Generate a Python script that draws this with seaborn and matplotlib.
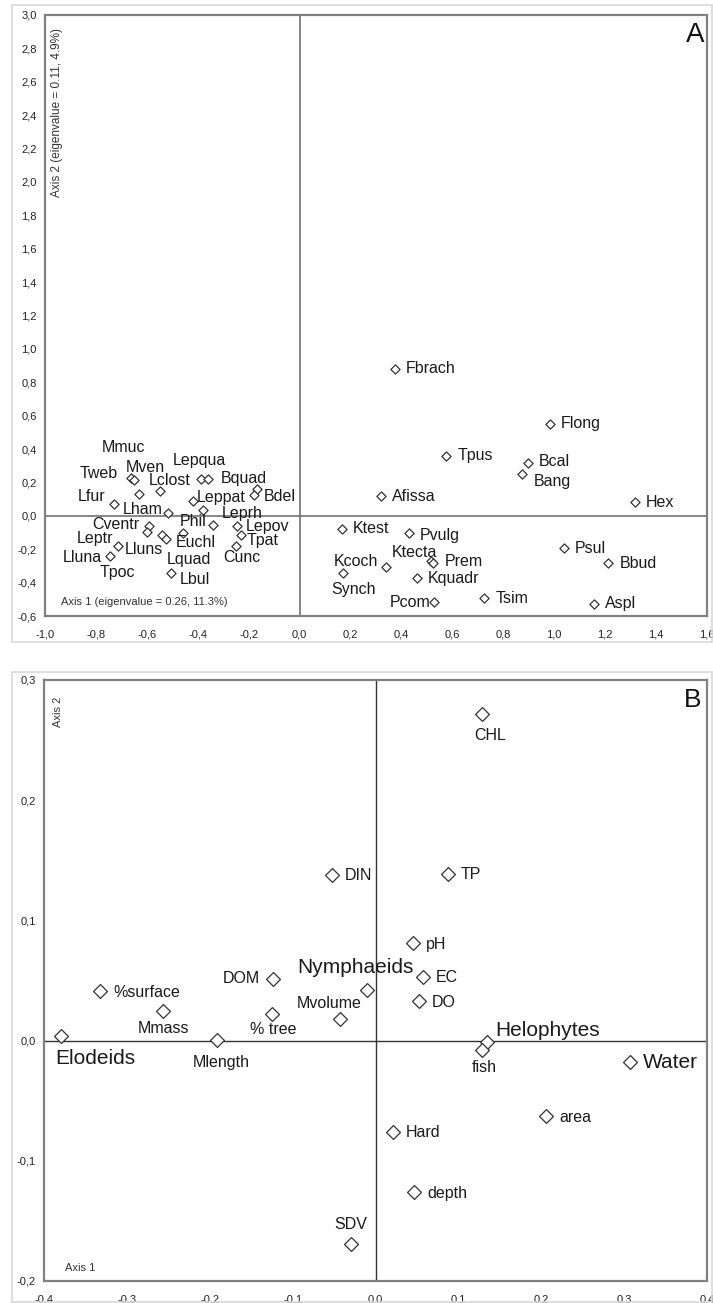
import numpy as np
import pandas as pd
import matplotlib
matplotlib.use("Agg")
import matplotlib.pyplot as plt
from matplotlib.ticker import FuncFormatter, MultipleLocator
from matplotlib.patches import Rectangle
import seaborn as sns

# panel A: species scores (CA)
species = ['Mmuc', 'Tweb', 'Mven', 'Lclost', 'Lepqua', 'Bquad', 'Bdel', '',
           'Leppat', 'Leprh', 'Lham', 'Lfur', 'Phil', 'Euchl', 'Lepov', 'Tpat',
           'Cunc', 'Cventr', 'Tpoc', 'Lluns', 'Lquad', 'Leptr', 'Lluna', 'Lbul',
           'Fbrach', 'Flong', 'Tpus', 'Bcal', 'Bang', 'Afissa', 'Hex', 'Ktest',
           'Pvulg', 'Psul', 'Kcoch', 'Ktecta', 'Prem', 'Synch', 'Bbud', 'Kquadr',
           'Tsim', 'Pcom', 'Aspl']
axis1_sp = [-0.662, -0.649, -0.632, -0.548, -0.387, -0.361, -0.168, -0.179,
            -0.420, -0.378, -0.518, -0.729, -0.339, -0.457, -0.244, -0.231,
            -0.250, -0.591, -0.600, -0.541, -0.526, -0.712, -0.745, -0.506,
            0.375, 0.984, 0.576, 0.897, 0.873, 0.319, 1.318, 0.166,
            0.431, 1.037, 0.340, 0.517, 0.523, 0.172, 1.213, 0.460,
            0.725, 0.528, 1.157]
axis2_sp = [0.228, 0.216, 0.130, 0.148, 0.220, 0.222, 0.160, 0.126,
            0.086, 0.032, 0.018, 0.072, -0.054, -0.102, -0.062, -0.114,
            -0.178, -0.062, -0.094, -0.114, -0.138, -0.178, -0.238, -0.340,
            0.880, 0.551, 0.361, 0.316, 0.251, 0.116, 0.082, -0.078,
            -0.102, -0.193, -0.307, -0.268, -0.283, -0.343, -0.283, -0.373,
            -0.493, -0.517, -0.527]

# panel B: environmental variables and plant groups
variables = ['CHL', 'DIN', 'TP', 'pH', 'EC', 'DO', 'DOM', 'Nymphaeids',
             'Mvolume', '% tree', '%surface', 'Mmass', 'Elodeids', 'Mlength',
             'Helophytes', 'fish', 'Water', 'area', 'Hard', 'depth', 'SDV']
axis1_var = [0.128, -0.053, 0.087, 0.045, 0.057, 0.052, -0.124, -0.010,
             -0.043, -0.125, -0.332, -0.256, -0.380, -0.191,
             0.134, 0.128, 0.307, 0.206, 0.021, 0.047, -0.029]
axis2_var = [0.272, 0.138, 0.139, 0.081, 0.053, 0.033, 0.051, 0.0425,
             0.018, 0.0225, 0.041, 0.025, 0.004, 0.0006,
             -0.001, -0.008, -0.0175, -0.063, -0.076, -0.126, -0.169]
big_labels = ['Elodeids', 'Nymphaeids', 'Helophytes', 'Water']

# label offsets in pixels (dx, dy, ha)
offs_a = {
    'Mmuc': (-8, 30, 'center'), 'Tweb': (-17, 6, 'right'), 'Mven': (-13, 27, 'left'),
    'Lclost': (-11, 11, 'left'), 'Lepqua': (-2, 19, 'center'), 'Bquad': (13, 0, 'left'),
    'Bdel': (7, -7, 'left'), 'Leppat': (4, 4, 'left'), 'Leprh': (18, -3, 'left'),
    'Lham': (-5, 3, 'right'), 'Lfur': (-9, 7, 'right'), 'Phil': (-7, 3, 'right'),
    'Euchl': (-8, -10, 'left'), 'Lepov': (8, 0, 'left'), 'Tpat': (6, -6, 'left'),
    'Cunc': (6, -12, 'center'), 'Cventr': (-10, 2, 'right'), 'Tpoc': (-47, -41, 'left'),
    'Lluns': (-37, -15, 'left'), 'Lquad': (1, -21, 'left'), 'Leptr': (-5, 7, 'right'),
    'Lluna': (-8, -2, 'right'), 'Lbul': (9, -7, 'left'),
    'Kcoch': (-8, 6, 'right'), 'Ktecta': (6, 8, 'right'), 'Prem': (12, 2, 'left'),
    'Synch': (-12, -16, 'left'), 'Pcom': (-4, 0, 'right'), 'Bang': (12, -8, 'left'),
    'Bcal': (11, 2, 'left'), 'Pvulg': (10, -3, 'left'),
}
offs_b = {
    'CHL': (9, -22, 'center'), 'DOM': (-13, 1, 'right'), 'Nymphaeids': (-12, 22, 'center'),
    'Mvolume': (-11, 15, 'center'), '% tree': (1, -16, 'center'), 'Mmass': (0, -18, 'center'),
    'Elodeids': (-5, -23, 'left'), 'Mlength': (4, -23, 'center'), 'Helophytes': (9, 11, 'left'),
    'fish': (3, -17, 'center'), 'SDV': (-1, 19, 'center'), 'DO': (13, -2, 'left'),
}

df_a = pd.DataFrame({'name': species, 'ax1': axis1_sp, 'ax2': axis2_sp})
df_b = pd.DataFrame({'name': variables, 'ax1': axis1_var, 'ax2': axis2_var})

sns.set_style('white')
plt.rcParams['font.family'] = ['Liberation Sans', 'DejaVu Sans']

fig = plt.figure(figsize=(7.13, 13.03), dpi=100)
W, H = 713.0, 1303.0

# light outer chart borders
fig.patches.append(Rectangle((12 / W, 1 - 642 / H), 700 / W, 637 / H, transform=fig.transFigure,
                             fill=False, edgecolor='#d8d8d8', linewidth=1.2))
fig.patches.append(Rectangle((12 / W, 1 - 1302 / H), 700 / W, 630 / H, transform=fig.transFigure,
                             fill=False, edgecolor='#d8d8d8', linewidth=1.2))

ax_a = fig.add_axes([45 / W, 1 - 616 / H, 662 / W, 601 / H])
ax_b = fig.add_axes([44 / W, 1 - 1281 / H, 663 / W, 601 / H])

comma = FuncFormatter(lambda v, p: f'{v:.1f}'.replace('.', ','))

# ---- panel A
ax_a.axhline(0, color='#666666', lw=1.1, zorder=1)
ax_a.axvline(0, color='#666666', lw=1.1, zorder=1)
sns.scatterplot(data=df_a, x='ax1', y='ax2', marker='D', s=22, color='white',
                edgecolor='#333333', linewidth=0.9, ax=ax_a, zorder=3)
for _, r in df_a.iterrows():
    if r['name'] == '':
        continue
    dx, dy, ha = offs_a.get(r['name'], (11, 0, 'left'))
    ax_a.annotate(r['name'], (r['ax1'], r['ax2']), xytext=(dx, dy), textcoords='offset pixels',
                  ha=ha, va='center', fontsize=11.5, color='#1a1a1a', zorder=4)
ax_a.set_xlim(-1.0, 1.6)
ax_a.set_ylim(-0.6, 3.0)
ax_a.xaxis.set_major_locator(MultipleLocator(0.2))
ax_a.yaxis.set_major_locator(MultipleLocator(0.2))
ax_a.xaxis.set_major_formatter(comma)
ax_a.yaxis.set_major_formatter(comma)
ax_a.text(0.024, 9 / 601, 'Axis 1 (eigenvalue = 0.26, 11.3%)', transform=ax_a.transAxes,
          fontsize=8, color='#333333', ha='left', va='bottom')
ax_a.text(12 / 662, 1 - 13 / 601, 'Axis 2 (eigenvalue = 0.11, 4.9%)', transform=ax_a.transAxes,
          fontsize=8.5, color='#333333', rotation=90, ha='center', va='top')
ax_a.text(1 - 12 / 662, 1 - 20 / 601, 'A', transform=ax_a.transAxes, fontsize=20,
          ha='center', va='center', color='#111111')

# ---- panel B
ax_b.axhline(0, color='#333333', lw=1.0, zorder=1)
ax_b.axvline(0, color='#333333', lw=1.0, zorder=1)
sns.scatterplot(data=df_b, x='ax1', y='ax2', marker='D', s=50, color='white',
                edgecolor='#333333', linewidth=0.9, ax=ax_b, zorder=3)
for _, r in df_b.iterrows():
    dx, dy, ha = offs_b.get(r['name'], (13, -1, 'left'))
    fs = 15 if r['name'] in big_labels else 11.5
    ax_b.annotate(r['name'], (r['ax1'], r['ax2']), xytext=(dx, dy), textcoords='offset pixels',
                  ha=ha, va='center', fontsize=fs, color='#1a1a1a', zorder=4)
ax_b.set_xlim(-0.4, 0.4)
ax_b.set_ylim(-0.2, 0.3)
ax_b.xaxis.set_major_locator(MultipleLocator(0.1))
ax_b.yaxis.set_major_locator(MultipleLocator(0.1))
ax_b.xaxis.set_major_formatter(comma)
ax_b.yaxis.set_major_formatter(comma)
ax_b.text(21 / 663, 8 / 601, 'Axis 1', transform=ax_b.transAxes, fontsize=8,
          color='#333333', ha='left', va='bottom')
ax_b.text(14 / 663, 1 - 32 / 601, 'Axis 2', transform=ax_b.transAxes, fontsize=8,
          color='#333333', rotation=90, ha='center', va='center')
ax_b.text(1 - 14 / 663, 1 - 20 / 601, 'B', transform=ax_b.transAxes, fontsize=19,
          ha='center', va='center', color='#111111')

for ax in (ax_a, ax_b):
    ax.set_xlabel('')
    ax.set_ylabel('')
    for s in ax.spines.values():
        s.set_visible(True)
        s.set_color('#808080')
        s.set_linewidth(1.6)
    ax.tick_params(axis='both', length=0, labelsize=8, colors='#222222')
    ax.tick_params(axis='x', pad=10)
    ax.tick_params(axis='y', pad=6)

fig.savefig('out.png', dpi=100)
